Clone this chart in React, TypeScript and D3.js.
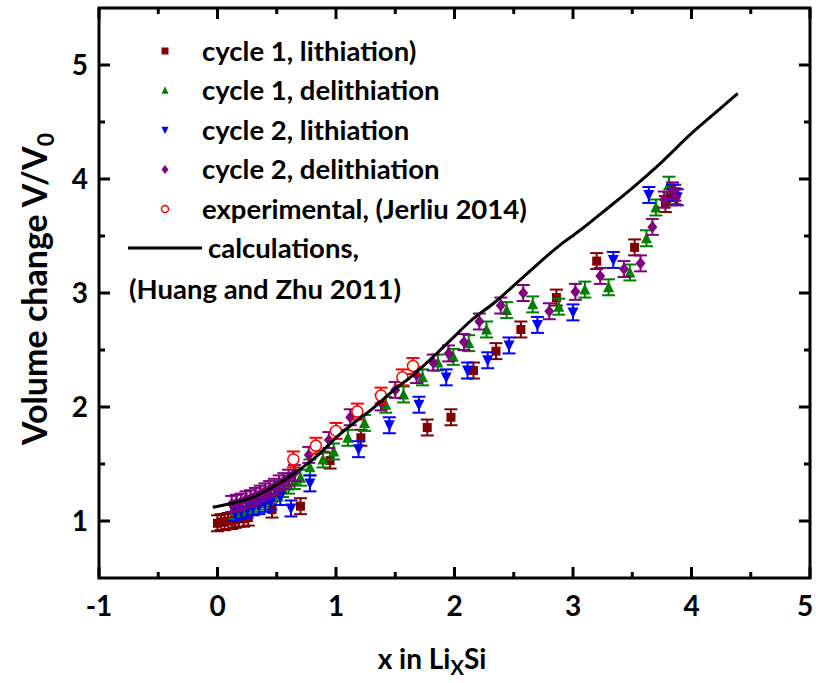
import React, { useEffect } from "react";
import * as d3 from "d3";

const xTicks = [-1, 0, 1, 2, 3, 4, 5];
const yTicks = [1, 2, 3, 4, 5];

const c1LithX = [0.0, 0.03, 0.06, 0.09, 0.12, 0.15, 0.18, 0.22, 0.26, 0.46, 0.70, 0.95, 1.21, 1.77, 1.97, 2.16, 2.35, 2.56, 2.86, 3.20, 3.52, 3.78, 3.82, 3.86];
const c1LithY = [0.98, 0.99, 0.99, 1.0, 1.0, 1.01, 1.02, 1.02, 1.03, 1.10, 1.13, 1.53, 1.73, 1.82, 1.91, 2.32, 2.49, 2.68, 2.96, 3.28, 3.40, 3.78, 3.84, 3.88];

const c1DelX = [0.15, 0.2, 0.25, 0.3, 0.35, 0.4, 0.45, 0.5, 0.55, 0.6, 0.65, 0.7, 0.78, 0.89, 0.98, 1.10, 1.24, 1.42, 1.57, 1.73, 1.86, 1.99, 2.12, 2.27, 2.44, 2.66, 2.88, 3.10, 3.30, 3.48, 3.62, 3.70, 3.81, 3.86];
const c1DelY = [1.09, 1.11, 1.13, 1.15, 1.17, 1.19, 1.22, 1.25, 1.28, 1.31, 1.35, 1.38, 1.47, 1.54, 1.61, 1.73, 1.86, 2.02, 2.11, 2.26, 2.39, 2.44, 2.56, 2.68, 2.85, 2.90, 2.88, 3.03, 3.05, 3.18, 3.48, 3.75, 3.95, 3.85];

const c2LithX = [0.15, 0.2, 0.25, 0.3, 0.35, 0.4, 0.45, 0.53, 0.62, 0.78, 1.19, 1.45, 1.70, 1.93, 2.11, 2.28, 2.46, 2.70, 3.0, 3.34, 3.64, 3.84, 3.88];
const c2LithY = [1.07, 1.09, 1.10, 1.12, 1.13, 1.15, 1.17, 1.21, 1.11, 1.33, 1.63, 1.84, 2.02, 2.26, 2.32, 2.41, 2.54, 2.72, 2.83, 3.29, 3.86, 3.88, 3.84];

const c2DelX = [0.12, 0.16, 0.2, 0.24, 0.28, 0.32, 0.36, 0.4, 0.44, 0.48, 0.52, 0.56, 0.6, 0.65, 0.77, 0.94, 1.12, 1.38, 1.50, 1.68, 1.82, 1.95, 2.08, 2.21, 2.39, 2.58, 2.80, 3.02, 3.23, 3.43, 3.57, 3.67, 3.77, 3.84, 3.87];
const c2DelY = [1.15, 1.16, 1.17, 1.19, 1.20, 1.22, 1.24, 1.26, 1.28, 1.30, 1.33, 1.35, 1.38, 1.42, 1.58, 1.71, 1.91, 2.04, 2.15, 2.28, 2.39, 2.47, 2.57, 2.75, 2.89, 3.0, 2.84, 3.01, 3.15, 3.21, 3.26, 3.58, 3.82, 3.90, 3.84];

const expX = [0.64, 0.83, 1.0, 1.18, 1.38, 1.56, 1.65];
const expY = [1.54, 1.66, 1.79, 1.96, 2.10, 2.26, 2.36];

const calcX = [-0.04, 0.14, 0.3, 0.42, 0.55, 0.68, 0.85, 1.01, 1.15, 1.29, 1.49, 1.65, 1.86, 2.0, 2.13, 2.33, 2.58, 2.89, 3.06, 3.3, 3.5, 3.74, 4.0, 4.2, 4.39];
const calcY = [1.12, 1.16, 1.21, 1.27, 1.35, 1.44, 1.58, 1.74, 1.86, 1.97, 2.15, 2.28, 2.48, 2.62, 2.75, 2.91, 3.14, 3.42, 3.55, 3.75, 3.92, 4.14, 4.40, 4.58, 4.75];

const ERR = 0.07;

const legendLabels = [
  "cycle 1, lithiation)",
  "cycle 1, delithiation",
  "cycle 2, lithiation",
  "cycle 2, delithiation",
  "experimental, (Jerliu 2014)",
];

const FONT = "Lato, 'Open Sans', sans-serif";

type Shape = "square" | "up" | "down" | "diamond" | "circle";

function Marker({ shape, x, y, color, s }: { shape: Shape; x: number; y: number; color: string; s: number }) {
  if (shape === "square") return <rect x={x - s / 2} y={y - s / 2} width={s} height={s} fill={color} />;
  if (shape === "circle") return <circle cx={x} cy={y} r={s / 2} fill="white" stroke={color} strokeWidth={1.5} />;
  if (shape === "up") {
    const h = s * 0.9;
    return <path d={`M${x},${y - h / 2 - 1}L${x + s / 2},${y + h / 2}L${x - s / 2},${y + h / 2}Z`} fill={color} />;
  }
  if (shape === "down") {
    const h = s * 0.9;
    return <path d={`M${x},${y + h / 2 + 1}L${x + s / 2},${y - h / 2}L${x - s / 2},${y - h / 2}Z`} fill={color} />;
  }
  return <path d={`M${x},${y - s / 2 - 1}L${x + s / 2},${y}L${x},${y + s / 2 + 1}L${x - s / 2},${y}Z`} fill={color} />;
}

export default function App() {
  useEffect(() => {
    document.body.style.margin = "0";
  }, []);

  const W = 816, H = 683;
  const x = d3.scaleLinear().domain([-1, 5]).range([99, 810]);
  const y = d3.scaleLinear().domain([0.5, 5.5]).range([578, 8]);

  const series: { xs: number[]; ys: number[]; color: string; shape: Shape; s: number }[] = [
    { xs: c1LithX, ys: c1LithY, color: "#800000", shape: "square", s: 9 },
    { xs: c1DelX, ys: c1DelY, color: "#008000", shape: "up", s: 11 },
    { xs: c2LithX, ys: c2LithY, color: "#0000ff", shape: "down", s: 11 },
    { xs: c2DelX, ys: c2DelY, color: "#800080", shape: "diamond", s: 10 },
    { xs: expX, ys: expY, color: "#ff0000", shape: "circle", s: 11 },
  ];

  const line = d3
    .line<number>()
    .x((_, i) => x(calcX[i]))
    .y((d) => y(d))
    .curve(d3.curveMonotoneX);

  const minorX = d3.range(-0.5, 5, 1);
  const minorY = d3.range(1.5, 5.5, 1);
  const [x0, x1] = x.range();
  const [yb, yt] = y.range();

  return (
    <svg width={W} height={H} style={{ display: "block", background: "white" }}>
      {/* data */}
      <g>
        {series.map((se, si) => (
          <g key={si}>
            {se.xs.map((xv, i) => {
              const cx = x(xv), cy = y(se.ys[i]);
              const ytop = y(se.ys[i] + ERR), ybot = y(se.ys[i] - ERR);
              return (
                <g key={i}>
                  <line x1={cx} x2={cx} y1={ytop} y2={ybot} stroke={se.color} strokeWidth={2} />
                  <line x1={cx - 6.5} x2={cx + 6.5} y1={ytop} y2={ytop} stroke={se.color} strokeWidth={2} />
                  <line x1={cx - 6.5} x2={cx + 6.5} y1={ybot} y2={ybot} stroke={se.color} strokeWidth={2} />
                  <Marker shape={se.shape} x={cx} y={cy} color={se.color} s={se.s} />
                </g>
              );
            })}
          </g>
        ))}
      </g>
      <path d={line(calcY) || ""} fill="none" stroke="black" strokeWidth={3} />

      {/* frame */}
      <rect x={x0} y={yt} width={x1 - x0} height={yb - yt} fill="none" stroke="black" strokeWidth={3} />
      {xTicks.map((t) => (
        <g key={"xt" + t}>
          <line x1={x(t)} x2={x(t)} y1={yb} y2={yb - 11} stroke="black" strokeWidth={3} />
          <line x1={x(t)} x2={x(t)} y1={yt} y2={yt + 11} stroke="black" strokeWidth={3} />
          <text x={Math.min(x(t), 805)} y={616} textAnchor="middle" fontFamily={FONT} fontWeight="bold" fontSize={28}>
            {t}
          </text>
        </g>
      ))}
      {minorX.map((t) => (
        <g key={"xm" + t}>
          <line x1={x(t)} x2={x(t)} y1={yb} y2={yb - 6} stroke="black" strokeWidth={3} />
          <line x1={x(t)} x2={x(t)} y1={yt} y2={yt + 6} stroke="black" strokeWidth={3} />
        </g>
      ))}
      {yTicks.map((t) => (
        <g key={"yt" + t}>
          <line x1={x0} x2={x0 + 11} y1={y(t)} y2={y(t)} stroke="black" strokeWidth={3} />
          <line x1={x1} x2={x1 - 11} y1={y(t)} y2={y(t)} stroke="black" strokeWidth={3} />
          <text x={88} y={y(t)} dy="0.36em" textAnchor="end" fontFamily={FONT} fontWeight="bold" fontSize={28}>
            {t}
          </text>
        </g>
      ))}
      {minorY.map((t) => (
        <g key={"ym" + t}>
          <line x1={x0} x2={x0 + 6} y1={y(t)} y2={y(t)} stroke="black" strokeWidth={3} />
          <line x1={x1} x2={x1 - 6} y1={y(t)} y2={y(t)} stroke="black" strokeWidth={3} />
        </g>
      ))}

      {/* axis titles */}
      <text x={432} y={669} textAnchor="middle" fontFamily={FONT} fontWeight="bold" fontSize={28}>
        x in Li
        <tspan fontSize={20} dy={6}>X</tspan>
        <tspan dy={-6}>Si</tspan>
      </text>
      <text
        transform="translate(47,289) rotate(-90)"
        textAnchor="middle"
        fontFamily={FONT}
        fontWeight="bold"
        fontSize={34}
      >
        Volume change V/V
        <tspan fontSize={23} dy={7}>0</tspan>
      </text>

      {/* legend */}
      {legendLabels.map((lab, i) => {
        const ly = 51 + i * 39.5;
        const se = series[i];
        return (
          <g key={"lg" + i}>
            <Marker shape={se.shape} x={165} y={ly} color={se.color} s={7} />
            <text x={202} y={ly} dy="0.35em" fontFamily={FONT} fontWeight="bold" fontSize={27.5}>
              {lab}
            </text>
          </g>
        );
      })}
      <line x1={128} x2={202} y1={248} y2={248} stroke="black" strokeWidth={3} />
      <text x={208} y={248} dy="0.35em" fontFamily={FONT} fontWeight="bold" fontSize={27.5}>
        calculations,
      </text>
      <text x={129} y={289} dy="0.35em" fontFamily={FONT} fontWeight="bold" fontSize={27.5}>
        (Huang and Zhu 2011)
      </text>
    </svg>
  );
}
